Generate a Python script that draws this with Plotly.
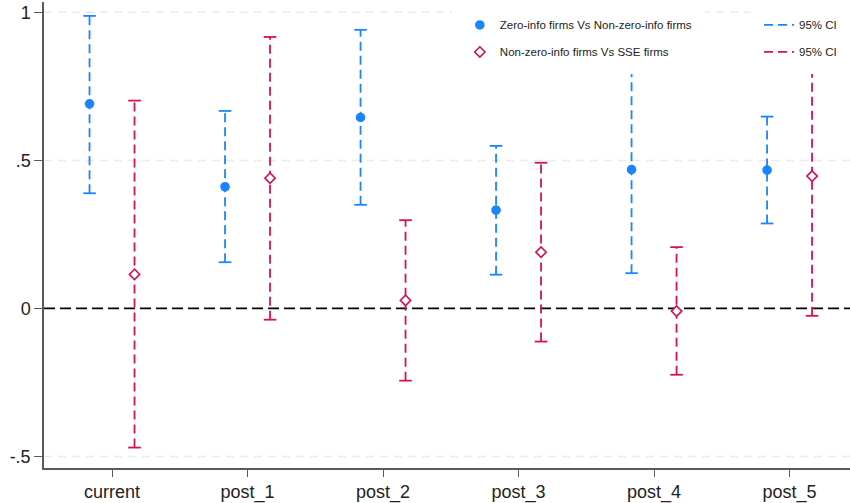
import plotly.graph_objects as go

categories = ["current", "post_1", "post_2", "post_3", "post_4", "post_5"]

# Zero-info firms Vs Non-zero-info firms
blue_est = [0.691, 0.411, 0.645, 0.332, 0.469, 0.467]
blue_lo = [0.389, 0.156, 0.350, 0.114, 0.119, 0.287]
blue_hi = [0.988, 0.667, 0.941, 0.549, 0.820, 0.648]

# Non-zero-info firms Vs SSE firms
red_est = [0.115, 0.440, 0.027, 0.190, -0.009, 0.447]
red_lo = [-0.470, -0.038, -0.244, -0.112, -0.224, -0.025]
red_hi = [0.702, 0.917, 0.298, 0.492, 0.207, 0.920]

ytick_vals = [-0.5, 0, 0.5, 1]
ytick_text = ["-.5", "0", ".5", "1"]

BLUE = "#1a85ff"
RED = "#d41159"
FONT = "Arial, Liberation Sans, sans-serif"
OFFSET = 0.166

fig = go.Figure()


def add_series(est, lo, hi, color, sign, name, symbol, fill, lg_name):
    xs = [i + sign * OFFSET for i in range(len(est))]
    cx, cy = [], []
    for x, a, b in zip(xs, lo, hi):
        cx += [x, x, None]
        cy += [a, b, None]
    fig.add_trace(go.Scatter(
        x=cx, y=cy, mode="lines",
        line=dict(color=color, width=1.8, dash="9px,5px"),
        name="95% CI", legend="legend2", legendgroup=lg_name + "ci",
        hoverinfo="skip"))
    fig.add_trace(go.Scatter(
        x=xs + xs, y=lo + hi, mode="markers",
        marker=dict(symbol="line-ew", size=9, line=dict(color=color, width=1.8)),
        showlegend=False, hoverinfo="skip"))
    fig.add_trace(go.Scatter(
        x=xs, y=est, mode="markers", name=name, legendgroup=lg_name,
        marker=dict(symbol=symbol, size=8,
                    color=fill, line=dict(color=color, width=1.6))))


add_series(blue_est, blue_lo, blue_hi, BLUE, -1,
           "Zero-info firms Vs Non-zero-info firms", "circle", BLUE, "b")
add_series(red_est, red_lo, red_hi, RED, 1,
           "Non-zero-info firms Vs SSE firms", "diamond", "white", "r")

# light dashed gridlines (except at zero, where the reference line sits)
for v in ytick_vals:
    if v != 0:
        fig.add_shape(type="line", xref="paper", x0=0, x1=1, yref="y", y0=v, y1=v,
                      line=dict(color="#ebebeb", width=1.5, dash="8px,6px"),
                      layer="below")

fig.add_shape(type="line", xref="paper", x0=0, x1=1, yref="y", y0=0, y1=0,
              line=dict(color="black", width=1.6, dash="11px,5px"), layer="below")

legend_common = dict(yanchor="top", y=0.999, bgcolor="white",
                     bordercolor="white", borderwidth=8,
                     font=dict(size=11.5, family=FONT, color="#222"),
                     traceorder="grouped", tracegroupgap=8, itemwidth=30)

fig.update_layout(
    width=850, height=503,
    margin=dict(l=44, r=0, t=2, b=35),
    paper_bgcolor="white", plot_bgcolor="white",
    font=dict(family=FONT, color="#222222"),
    showlegend=True,
    legend=dict(x=0.506, xanchor="left", **legend_common),
    legend2=dict(x=1.0, xanchor="right", **legend_common),
    xaxis=dict(range=[-0.502, 5.446], tickvals=list(range(len(categories))),
               ticktext=categories, showgrid=False, zeroline=False,
               showline=True, linecolor="#5a5a5a", linewidth=1.5,
               ticks="outside", ticklen=7, tickcolor="#5a5a5a", tickwidth=1.2,
               tickfont=dict(size=18, family=FONT, color="#222")),
    yaxis=dict(range=[-0.539, 1.035], tickvals=ytick_vals, ticktext=ytick_text,
               showgrid=False, zeroline=False, showline=True,
               linecolor="#5a5a5a", linewidth=1.5,
               ticks="outside", ticklen=8, tickcolor="#5a5a5a", tickwidth=1.2,
               tickfont=dict(size=18, family=FONT, color="#222")),
)

fig.write_html("out.html", config={"displayModeBar": False},
               post_script="document.body.style.margin='0';")
